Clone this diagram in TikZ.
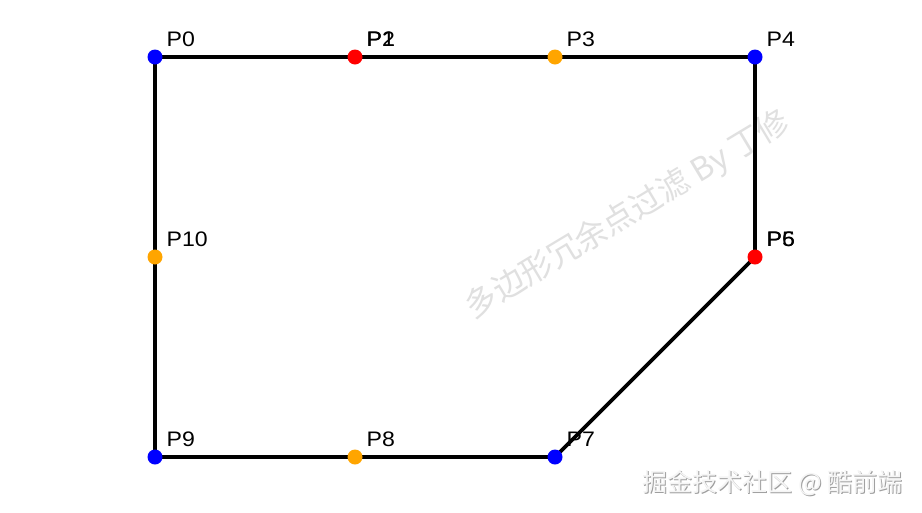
\documentclass[tikz,border=0pt]{standalone}
\usepackage{fontspec}
\setmainfont{Liberation Sans}
\newfontfamily\cjk{Noto Sans CJK SC}
\definecolor{dotblue}{RGB}{0,0,255}
\definecolor{dotred}{RGB}{255,0,0}
\definecolor{dotorange}{RGB}{255,165,0}
\definecolor{wmgray}{RGB}{224,224,224}
\begin{document}
\begin{tikzpicture}[x=1pt,y=-1pt,
  pt/.style={circle,inner sep=0pt,minimum size=15pt},
  lbl/.style={anchor=base west,inner sep=0pt,xscale=1.1,transform shape,font=\fontsize{21}{23}\selectfont},
  edge/.style={line width=3.8pt,black}]
\useasboundingbox[fill=white] (0,0) rectangle (922,512);
\coordinate (p0) at (155,57);
\coordinate (p1) at (355,57);
\coordinate (p2) at (355,57);
\coordinate (p3) at (555,57);
\coordinate (p4) at (755,57);
\coordinate (p5) at (755,257);
\coordinate (p6) at (755,257);
\coordinate (p7) at (555,457);
\coordinate (p8) at (355,457);
\coordinate (p9) at (155,457);
\coordinate (p10) at (155,257);
% watermark
\node[rotate=31,text=wmgray,font=\cjk\fontsize{32}{34}\selectfont] (wm) at (628,215) {多边形冗余点过滤 By 丁修};
% polygon
\draw[edge] (p0) -- (p1) -- (p2) -- (p3) -- (p4) -- (p5) -- (p6) -- (p7) -- (p8) -- (p9) -- (p10) -- cycle;
% dots
\node[pt,fill=dotblue] (d0) at (p0) {};
\node[pt,fill=dotred] (d1) at (p1) {};
\node[pt,fill=dotorange] (d3) at (p3) {};
\node[pt,fill=dotblue] (d4) at (p4) {};
\node[pt,fill=dotred] (d5) at (p5) {};
\node[pt,fill=dotblue] (d7) at (p7) {};
\node[pt,fill=dotorange] (d8) at (p8) {};
\node[pt,fill=dotblue] (d9) at (p9) {};
\node[pt,fill=dotorange] (d10) at (p10) {};
% labels
\foreach \i in {0,...,10} {
  \node[lbl] (l\i) at ([shift={(11.5,-10.5)}]p\i) {P\i};
}
% footer
\node[anchor=base east,text=gray!75,font=\cjk\fontsize{25}{27}\selectfont] (ft0) at (907,492) {掘金技术社区 @ 酷前端};
\node[anchor=base east,text=white!96!black,font=\cjk\fontsize{25}{27}\selectfont] (ft) at (906,491) {掘金技术社区 @ 酷前端};
\end{tikzpicture}
\end{document}
